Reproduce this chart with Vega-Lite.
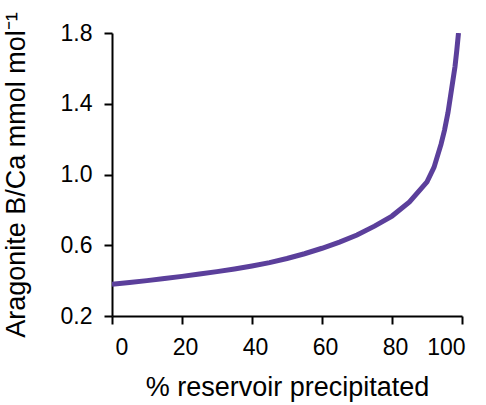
{
  "$schema": "https://vega.github.io/schema/vega-lite/v6.json",
  "width": 350,
  "height": 283,
  "autosize": "none",
  "padding": {"left": 112, "top": 33, "right": 24, "bottom": 89},
  "background": "white",
  "config": {
    "view": {"stroke": null},
    "font": "Liberation Sans",
    "axis": {
      "grid": false,
      "domainColor": "#000000",
      "domainWidth": 2,
      "tickColor": "#000000",
      "tickWidth": 2,
      "tickSize": 8,
      "labelColor": "#000000",
      "labelFont": "Liberation Sans",
      "labelFontSize": 23,
      "titleColor": "#000000",
      "titleFont": "Liberation Sans",
      "titleFontSize": 27,
      "titleFontWeight": "normal"
    }
  },
  "data": {
    "values": [
      {"pct": 0, "bca": 0.38},
      {"pct": 5, "bca": 0.39},
      {"pct": 10, "bca": 0.40},
      {"pct": 15, "bca": 0.412},
      {"pct": 20, "bca": 0.424},
      {"pct": 25, "bca": 0.437},
      {"pct": 30, "bca": 0.451},
      {"pct": 35, "bca": 0.466},
      {"pct": 40, "bca": 0.483},
      {"pct": 45, "bca": 0.502},
      {"pct": 50, "bca": 0.525},
      {"pct": 55, "bca": 0.552},
      {"pct": 60, "bca": 0.583},
      {"pct": 65, "bca": 0.618},
      {"pct": 70, "bca": 0.658},
      {"pct": 75, "bca": 0.708},
      {"pct": 80, "bca": 0.765},
      {"pct": 85, "bca": 0.845},
      {"pct": 90, "bca": 0.958},
      {"pct": 92, "bca": 1.04},
      {"pct": 94, "bca": 1.17},
      {"pct": 95, "bca": 1.25},
      {"pct": 96, "bca": 1.35},
      {"pct": 97, "bca": 1.48},
      {"pct": 98, "bca": 1.61},
      {"pct": 98.5, "bca": 1.70},
      {"pct": 99, "bca": 1.8}
    ]
  },
  "mark": {"type": "line", "color": "#5b3f9b", "strokeWidth": 5, "clip": true},
  "encoding": {
    "x": {
      "field": "pct",
      "type": "quantitative",
      "scale": {"domain": [0, 100], "nice": false},
      "axis": {
        "title": "% reservoir precipitated",
        "values": [0, 20, 40, 60, 80, 100],
        "labelPadding": 12,
        "labelOffset": 3,
        "titlePadding": 15
      }
    },
    "y": {
      "field": "bca",
      "type": "quantitative",
      "scale": {"domain": [0.2, 1.8], "nice": false, "zero": false},
      "axis": {
        "title": "Aragonite B/Ca mmol mol⁻¹",
        "values": [0.2, 0.6, 1.0, 1.4, 1.8],
        "format": ".1f",
        "labelPadding": 12,
        "titlePadding": 30
      }
    }
  }
}
